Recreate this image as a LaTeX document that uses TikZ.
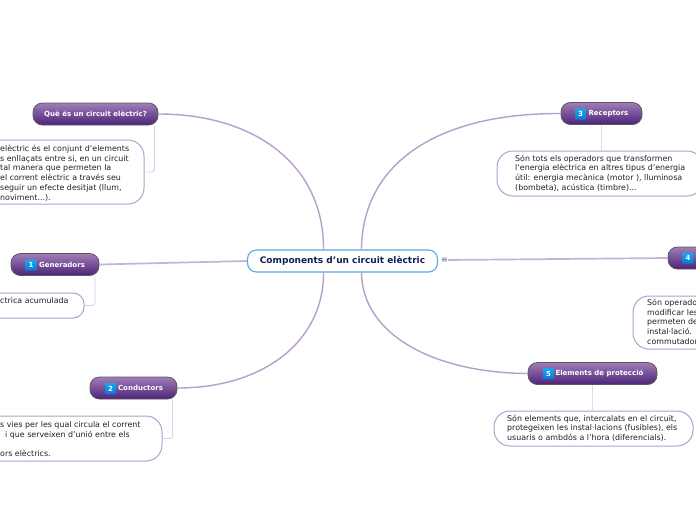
\documentclass[tikz,border=0pt]{standalone}
\usepackage{fontspec}
\setmainfont{DejaVu Sans}
\definecolor{linkpurple}{HTML}{B89FCB}
\definecolor{thinpurple}{HTML}{DCCFE6}
\definecolor{notepurple}{HTML}{B69CCB}
\definecolor{topictop}{HTML}{A27DB8}
\definecolor{topicbot}{HTML}{4B2378}
\definecolor{centreblue}{HTML}{5FA8DA}
\definecolor{centretext}{HTML}{101F52}
\definecolor{bodytext}{HTML}{222222}
\definecolor{badgetop}{HTML}{1AA8EC}
\definecolor{badgebot}{HTML}{0A78D8}
\tikzset{
  centre/.style={draw=centreblue,line width=1.1pt,fill=white,rounded corners=9pt,minimum width=190pt,minimum height=22pt,inner sep=0pt,text=centretext,font=\fontsize{9}{11}\selectfont\bfseries},
  topic/.style={draw=black!65,line width=.8pt,top color=topictop,bottom color=topicbot,rounded corners=9.5pt,minimum height=22pt,inner sep=0pt,text=white,font=\fontsize{7}{9}\selectfont\bfseries},
  badge/.style={top color=badgetop,bottom color=badgebot,rounded corners=1pt,minimum size=11pt,inner sep=0pt,text=white,font=\fontsize{7}{9}\selectfont\bfseries},
  note/.style={draw=notepurple,line width=1pt,fill=white,rounded corners=16pt,inner sep=0pt},
  notetext/.style={anchor=north west,inner sep=0pt,align=left,text=bodytext,font=\fontsize{7.9}{9.7}\selectfont},
  link/.style={draw=linkpurple,line width=1.4pt},
  flatlink/.style={draw=linkpurple!80,line width=1.7pt},
  sublink/.style={draw=thinpurple,line width=.9pt,rounded corners=3pt},
  widelink/.style={draw=thinpurple!80,line width=1.7pt},
}
\begin{document}
\begin{tikzpicture}[x=1pt,y=-1pt]
\useasboundingbox[fill=white] (0,0) rectangle (696,520);
% note boxes first, they run off the page
\node[note,minimum width=170pt,minimum height=64pt] (whatnote) at (59,172) {};
\node[note,minimum width=110pt,minimum height=25pt,rounded corners=11pt] (gennote) at (29,305.5) {};
\node[note,minimum width=188pt,minimum height=45pt] (condnote) at (68,438.5) {};
\node[note,minimum width=206pt,minimum height=45pt] (recnote) at (600,173.5) {};
\node[note,minimum width=100pt,minimum height=53pt] (ctrlnote) at (683,322.5) {};
\node[note,minimum width=199pt,minimum height=35pt] (protnote) at (593.5,428.5) {};
% topics
\node[centre] (main) at (342.5,261) {Components d'un circuit elèctric};
\node[topic,minimum width=125pt] (what) at (95.5,114) {Què és un circuit elèctric?};
\node[topic,minimum width=88pt] (gen) at (55,264.5) {\hspace{14pt}Generadors};
\node[topic,minimum width=87pt] (cond) at (133.5,388) {\hspace{14pt}Conductors};
\node[topic,minimum width=81pt] (rec) at (601.5,113.5) {\hspace{14pt}Receptors};
\node[topic,minimum width=80pt] (ctrl) at (708,258) {};
\node[topic,minimum width=129pt] (prot) at (592.5,373.5) {\hspace{14pt}Elements de protecció};
\node[badge] (b1) at (31,265) {1};
\node[badge] (b2) at (110.5,388.5) {2};
\node[badge] (b3) at (580.5,114) {3};
\node[badge] (b4) at (688,258) {4};
\node[badge] (b5) at (548.5,373.5) {5};
\node[text=centretext!70,inner sep=0pt,font=\fontsize{8}{8}\selectfont] (more) at (444.5,260) {≡};
% main links
\draw[link] ([xshift=-19pt]main.north) .. controls (324,165) and (255,114) .. (what.east);
\draw[link] ([xshift=19pt]main.north) .. controls (362,165) and (435,113) .. (rec.west);
\draw[link] ([xshift=-19pt]main.south) .. controls (324,340) and (265,388) .. (cond.east);
\draw[link] ([xshift=19pt]main.south) .. controls (362,335) and (435,373) .. (prot.west);
\draw[flatlink] (main.west) -- (gen.east);
\draw[flatlink] (more.east) -- (ctrl.west);
% small links to the notes
\draw[sublink] ([xshift=59pt]what.south) |- (whatnote.east);
\draw[sublink] ([xshift=40pt]gen.south) |- (gennote.east);
\draw[sublink] ([xshift=39pt]cond.south) |- (condnote.east);
\draw[widelink] (rec.south) -- (rec.south |- recnote.north);
\draw[widelink] (prot.south) -- (prot.south |- protnote.north);
% note texts
\node[notetext] (whattext) at (0,145) {elèctric és el conjunt d'elements\\s enllaçats entre si, en un circuit\\tal manera que permeten la\\el corrent elèctric a través seu\\seguir un efecte desitjat (llum,\\noviment...).};
\node[notetext] (gentext) at (0,297.5) {ctrica acumulada};
\node[notetext] (condtext) at (0,421.5) {s vies per les qual circula el corrent\\\hspace{5pt}i que serveixen d'unió entre els\\[9.7pt]ors elèctrics.};
\node[notetext] (rectext) at (515,154.5) {Són tots els operadors que transformen\\l'energia elèctrica en altres tipus d'energia\\útil: energia mecànica (motor ), lluminosa\\(bombeta), acústica (timbre)...};
\node[notetext] (ctrltext) at (647,299) {Són operado\\modificar les\\permeten de\\instal·lació. (\\commutador};
\node[notetext] (prottext) at (507,414.5) {Són elements que, intercalats en el circuit,\\protegeixen les instal·lacions (fusibles), els\\usuaris o ambdós a l'hora (diferencials).};
\end{tikzpicture}
\end{document}
